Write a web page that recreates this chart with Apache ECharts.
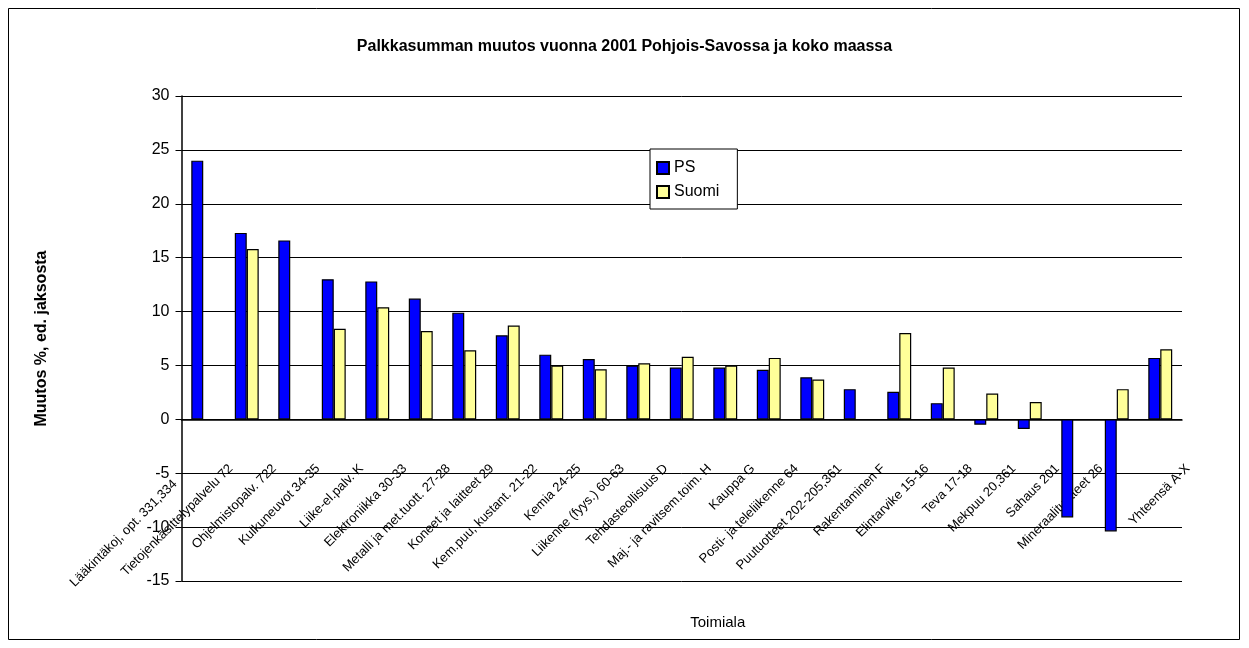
<!DOCTYPE html>
<html>
<head>
<meta charset="utf-8">
<title>Palkkasumman muutos</title>
<script src="https://cdn.jsdelivr.net/npm/echarts@6/dist/echarts.min.js"></script>
<style>
    html, body { margin: 0; padding: 0; background: #ffffff; }
    #chart { width: 1249px; height: 648px; }
</style>
</head>
<body>
<div id="chart"></div>
<script>
// toimialat, järjestetty PS:n muutoksen mukaan
const categories = [
    'Tietojenkäsittelypalvelu 72',
    'Ohjelmistopalv. 722',
    'Kulkuneuvot 34-35',
    'Liike-el.palv. K',
    'Elektroniikka 30-33',
    'Metalli ja met.tuott. 27-28',
    'Koneet ja laitteet 29',
    'Kem.puu, kustant. 21-22',
    'Kemia 24-25',
    'Liikenne (fyys.) 60-63',
    'Tehdasteollisuus D',
    'Maj.- ja ravitsem.toim. H',
    'Kauppa G',
    'Posti- ja teleliikenne 64',
    'Puutuotteet 202-205,361',
    'Rakentaminen F',
    'Elintarvike 15-16',
    'Teva 17-18',
    'Mekpuu 20,361',
    'Sahaus 201',
    'Mineraalituotteet 26',
    'Lääkintäkoj, opt. 331,334',
    'Yhteensä A-X'
];
const ps = [24.0, 17.3, 16.6, 13.0, 12.8, 11.2, 9.9, 7.8, 6.0, 5.6, 5.0, 4.8, 4.8, 4.6, 3.9, 2.8, 2.55, 1.5, -0.5, -0.9, -9.1, -10.4, 5.7];
const suomi = [null, 15.8, null, 8.4, 10.4, 8.2, 6.4, 8.7, 5.0, 4.65, 5.2, 5.8, 5.0, 5.7, 3.7, null, 8.0, 4.8, 2.4, 1.6, null, 2.8, 6.5];
const yTicks = { min: -15, max: 30, step: 5 };

// tämän toimialan nimi on kuvassa siirtynyt akselin vasempaan päähän
const movedLabel = categories.length - 2;

const font = 'Liberation Sans, Arial, sans-serif';
const chart = echarts.init(document.getElementById('chart'));

chart.setOption({
    animation: false,
    backgroundColor: '#ffffff',
    title: {
        text: 'Palkkasumman muutos vuonna 2001 Pohjois-Savossa ja koko maassa',
        left: 'center',
        top: 34,
        textStyle: { fontFamily: font, fontSize: 16, fontWeight: 'bold', color: '#000' }
    },
    legend: {
        data: ['PS', 'Suomi'],
        orient: 'vertical',
        left: 650,
        top: 149,
        icon: 'rect',
        itemWidth: 12,
        itemHeight: 12,
        itemGap: 8,
        padding: [11, 18, 9, 6],
        borderColor: '#000',
        borderWidth: 1,
        backgroundColor: '#fff',
        textStyle: { fontFamily: font, fontSize: 16, color: '#000' }
    },
    grid: {
        left: 181.5,
        right: 67,
        top: 96,
        bottom: 67,
        outerBoundsMode: 'none'
    },
    xAxis: {
        type: 'category',
        data: categories,
        name: 'Toimiala',
        nameLocation: 'middle',
        nameGap: 34,
        nameMoveOverlap: false,
        nameTextStyle: { fontFamily: font, fontSize: 15, color: '#000', padding: [0, 0, 0, 72] },
        axisLine: { onZero: true, lineStyle: { color: '#000', width: 1.5 } },
        axisTick: { length: 5, alignWithLabel: false, interval: 0, lineStyle: { color: '#000' } },
        axisLabel: {
            interval: 0,
            rotate: 45,
            margin: -142,
            verticalAlign: 'top',
            lineHeight: 78,
            fontFamily: font,
            fontSize: 13,
            color: '#000',
            formatter: function (value, index) {
                return index === movedLabel ? '' : value;
            }
        },
        splitLine: { show: false }
    },
    yAxis: {
        type: 'value',
        min: yTicks.min,
        max: yTicks.max,
        interval: yTicks.step,
        name: 'Muutos %, ed. jaksosta',
        nameLocation: 'middle',
        nameGap: 132,
        nameTextStyle: { fontFamily: font, fontSize: 16, fontWeight: 'bold', color: '#000' },
        axisLine: { show: true, lineStyle: { color: '#000', width: 1.5 } },
        axisTick: { show: true, length: 6, lineStyle: { color: '#000' } },
        axisLabel: { margin: 12, fontFamily: font, fontSize: 16, color: '#000' },
        splitLine: { lineStyle: { color: '#000', width: 1 } }
    },
    series: [
        {
            name: 'PS',
            type: 'bar',
            data: ps,
            barGap: '0%',
            barCategoryGap: '45%',
            itemStyle: { color: '#0000ff', borderColor: '#000', borderWidth: 1.2 }
        },
        {
            name: 'Suomi',
            type: 'bar',
            data: suomi,
            itemStyle: { color: '#ffff99', borderColor: '#000', borderWidth: 1.2 }
        }
    ],
    graphic: [
        {
            type: 'rect',
            shape: { x: 8.5, y: 8.5, width: 1231, height: 631 },
            style: { fill: 'none', stroke: '#000', lineWidth: 1 },
            silent: true
        },
        {
            type: 'text',
            x: 175,
            y: 482,
            rotation: Math.PI / 4,
            style: {
                text: categories[movedLabel],
                font: '13px ' + font,
                fill: '#000',
                align: 'right',
                verticalAlign: 'middle',
                textAlign: 'right',
                textVerticalAlign: 'middle'
            },
            silent: true
        }
    ]
});
</script>
</body>
</html>
